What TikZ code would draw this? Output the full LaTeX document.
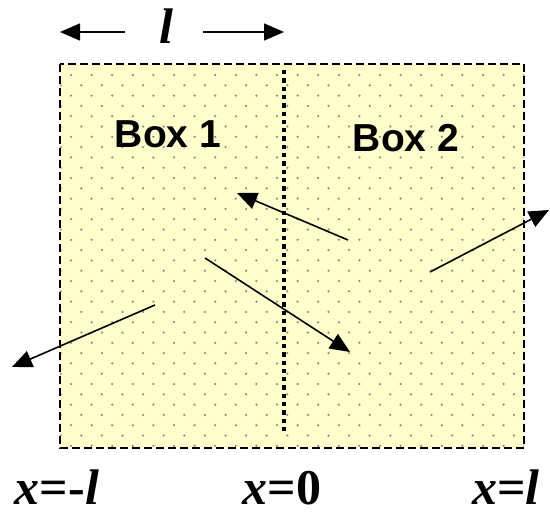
\documentclass[tikz,border=0pt]{standalone}
\usepackage{fontspec}
\setmainfont{Liberation Serif}
\newfontfamily\boxfont{Liberation Sans}
\usetikzlibrary{arrows.meta}
\definecolor{boxfill}{HTML}{FFFFCC}
\definecolor{dotgray}{HTML}{8C8C8C}
\tikzset{
  move/.style={line width=1.6pt, -{Triangle[length=20pt, width=17pt]}},
  boxlabel/.style={font=\boxfont\bfseries\fontsize{39}{40}\selectfont, inner sep=0pt},
  poslabel/.style={font=\bfseries\fontsize{50}{52}\selectfont, inner sep=0pt, anchor=base},
}
\begin{document}
\begin{tikzpicture}[x=1pt, y=-1pt]
  \useasboundingbox (0,0) rectangle (550,514);
  % Behaelter (gelb, gepunktet)
  \coordinate (nw) at (60,64);
  \coordinate (se) at (524,448);
  \fill[boxfill] (nw) rectangle (se);
  \begin{scope}
    \clip (nw) rectangle (se);
    \foreach \r in {0,2,...,36}{ \foreach \c in {0,...,22}{ \fill[dotgray] (71+20.6*\c, 75+10.3*\r) circle (1.25); } }
    \foreach \r in {1,3,...,37}{ \foreach \c in {0,...,22}{ \fill[dotgray] (60.7+20.6*\c, 75+10.3*\r) circle (1.25); } }
  \end{scope}
  \draw[line width=1.5pt, dash pattern=on 8pt off 4pt] (nw) rectangle (se);
  % Trennwand bei x=0
  \coordinate (wtop) at (284,70);
  \coordinate (wbot) at (284,434);
  \draw[line width=4.3pt, dash pattern=on 4.3pt off 4pt] (wtop) -- (wbot);
  % Laenge l oben
  \node[poslabel] (len) at (166,43) {\itshape l};
  \coordinate (lenLa) at (125,32); \coordinate (lenLb) at (60,32);
  \coordinate (lenRa) at (203,32); \coordinate (lenRb) at (284,32);
  \draw[move] (lenLa) -- (lenLb);
  \draw[move] (lenRa) -- (lenRb);
  % Beschriftung der Haelften
  \node[boxlabel] (box1) at (168,134) {Box 1};
  \node[boxlabel] (box2) at (406,138) {Box 2};
  % Teilchenbahnen
  \coordinate (a1) at (348,240); \coordinate (b1) at (237,193);
  \coordinate (a2) at (205,258); \coordinate (b2) at (350,352);
  \coordinate (a3) at (155,305); \coordinate (b3) at (12,367);
  \coordinate (a4) at (430,272); \coordinate (b4) at (549,210);
  \draw[move] (a1) -- (b1);
  \draw[move] (a2) -- (b2);
  \draw[move] (a3) -- (b3);
  \draw[move] (a4) -- (b4);
  % Positionen unten
  \node[poslabel] (xleft) at (57,504) {\itshape x\upshape =-\itshape l};
  \node[poslabel] (xmid) at (282,504) {\itshape x\upshape =0};
  \node[poslabel] (xright) at (506,504) {\itshape x\upshape =\itshape l};
\end{tikzpicture}
\end{document}
